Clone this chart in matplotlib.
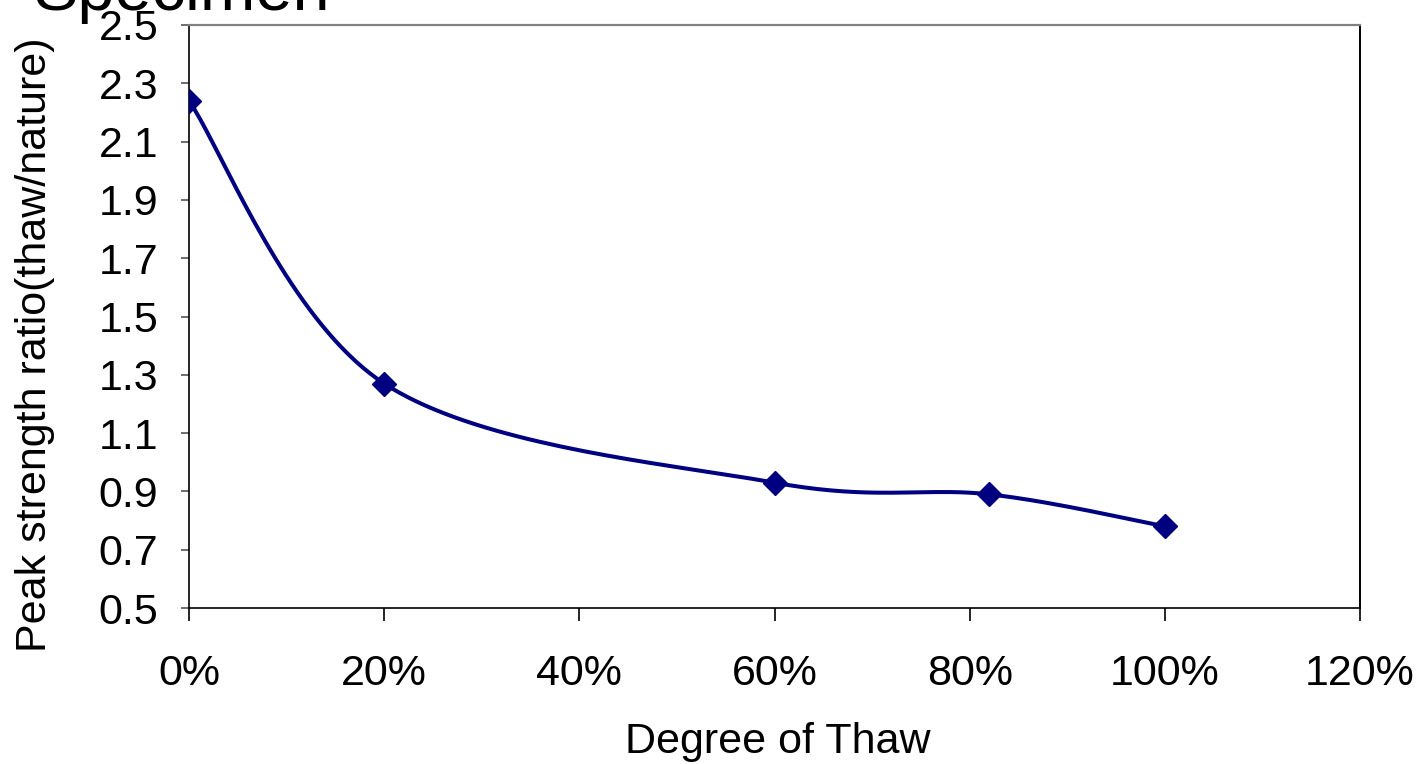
import numpy as np
import matplotlib
matplotlib.use("Agg")
import matplotlib.pyplot as plt

plt.rcParams['font.family'] = ['Liberation Sans', 'DejaVu Sans']

# Degree of thaw vs. peak strength ratio
thaw_degree = [0.0, 0.20, 0.60, 0.82, 1.00]
strength_ratio = [2.24, 1.27, 0.93, 0.89, 0.78]

x_ticks = [0.0, 0.2, 0.4, 0.6, 0.8, 1.0, 1.2]
x_tick_labels = ["0%", "20%", "40%", "60%", "80%", "100%", "120%"]
y_ticks = [0.5, 0.7, 0.9, 1.1, 1.3, 1.5, 1.7, 1.9, 2.1, 2.3, 2.5]
y_tick_labels = ["0.5", "0.7", "0.9", "1.1", "1.3", "1.5", "1.7", "1.9", "2.1", "2.3", "2.5"]

W, H = 1422, 764
FS = 31
fig = plt.figure(figsize=(W / 100, H / 100), dpi=100)
ax = fig.add_axes([189 / W, 1 - 608 / H, (1360 - 189) / W, (608 - 25) / H])
ax.set_xlim(0, 1.2)
ax.set_ylim(0.5, 2.5)

NAVY = "#000080"


def smooth_curve(ax, xs, ys, steps=40):
    """Bezier smoothing in screen space (Catmull-Rom style tangents)."""
    pts = ax.transData.transform(np.column_stack([xs, ys]))
    n = len(pts)
    out = [pts[0]]
    for i in range(n - 1):
        p0 = pts[max(i - 1, 0)]
        p1 = pts[i]
        p2 = pts[i + 1]
        p3 = pts[min(i + 2, n - 1)]
        c1 = p1 + (p2 - p0) / 6.0
        c2 = p2 - (p3 - p1) / 6.0
        t = np.linspace(0, 1, steps)[1:, None]
        seg = ((1 - t) ** 3) * p1 + 3 * ((1 - t) ** 2) * t * c1 \
            + 3 * (1 - t) * t ** 2 * c2 + t ** 3 * p2
        out.extend(seg)
    out = np.array(out)
    return ax.transData.inverted().transform(out)


curve = smooth_curve(ax, thaw_degree, strength_ratio)
ax.plot(curve[:, 0], curve[:, 1], color=NAVY, lw=2.9, solid_joinstyle='round',
        zorder=3)
ax.plot(thaw_degree, strength_ratio, linestyle='none', marker='D', ms=12.5,
        color=NAVY, zorder=4)

ax.set_xticks(x_ticks)
ax.set_xticklabels(x_tick_labels)
ax.set_yticks(y_ticks)
ax.set_yticklabels(y_tick_labels)
ax.tick_params(axis='x', direction='out', length=9, width=1.2, colors='black',
               labelsize=FS, pad=24)
ax.tick_params(axis='y', direction='out', length=6, width=1.2, colors='#555555',
               labelcolor='black', labelsize=FS, pad=16)

for side in ['left', 'bottom']:
    ax.spines[side].set_color('black')
    ax.spines[side].set_linewidth(1.2)
ax.spines['top'].set_color('#808080')
ax.spines['top'].set_linewidth(1.6)
ax.spines['right'].set_color('black')
ax.spines['right'].set_linewidth(1.4)

fig.text(778 / W, 1 - 742 / H, "Degree of Thaw", fontsize=FS, ha='center',
         va='center')
fig.text(35 / W, 1 - 345 / H, "Peak strength ratio(thaw/nature)", fontsize=FS,
         rotation=90, ha='center', va='center')
fig.text(33 / W, 1 - 10 / H, "Specimen", fontsize=48, ha='left',
         va='baseline')

fig.savefig("out.png", dpi=100)
